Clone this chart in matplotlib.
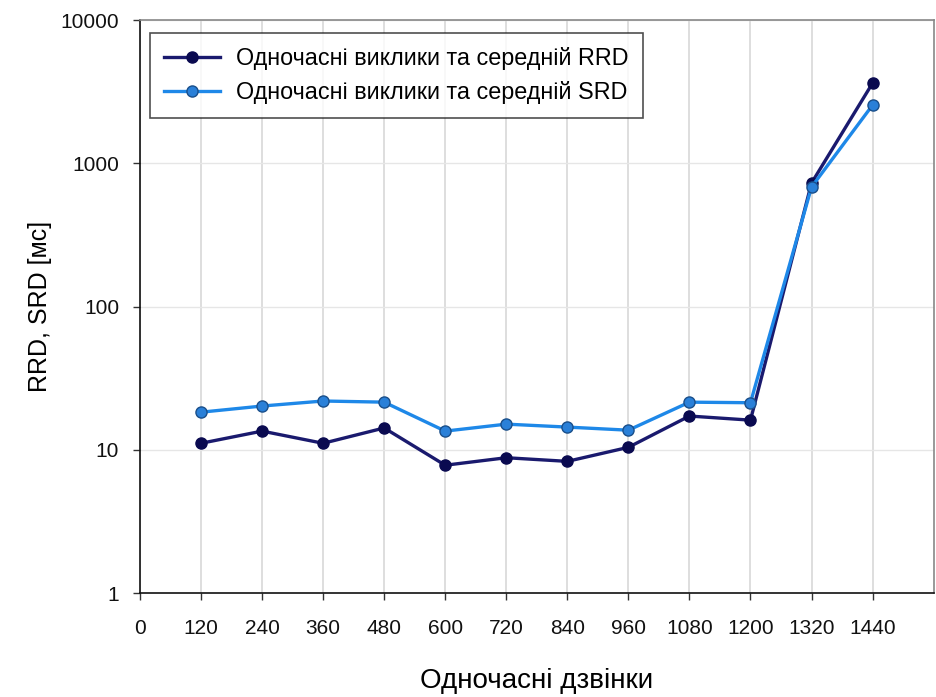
import matplotlib
matplotlib.use("Agg")
import matplotlib.pyplot as plt
from matplotlib.ticker import FixedLocator, NullLocator, FixedFormatter

plt.rcParams['font.family'] = ['Liberation Sans', 'DejaVu Sans']

calls = [120, 240, 360, 480, 600, 720, 840, 960, 1080, 1200, 1320, 1440]
rrd = [11.1, 13.5, 11.1, 14.2, 7.8, 8.8, 8.3, 10.4, 17.2, 16.1, 728, 3630]
srd = [18.3, 20.2, 21.9, 21.5, 13.5, 15.1, 14.4, 13.7, 21.5, 21.3, 683, 2550]
x_ticks = [0] + calls
y_ticks = [1, 10, 100, 1000, 10000]
y_labels = ['1', '10', '100', '1000', '10000']

fig = plt.figure(figsize=(9.37, 6.97), dpi=100)
ax = fig.add_axes([0.1494, 0.1492, 0.847, 0.822])

ax.set_yscale('log')
ax.set_xlim(0, 1560)
ax.set_ylim(1, 10000)

ax.plot(calls, rrd, color='#1a1a6e', lw=2.4, marker='o', ms=8,
        mfc='#0a0a50', mec='#0a0a50', label='Одночасні виклики та середній RRD', zorder=3)
ax.plot(calls, srd, color='#1e88e8', lw=2.4, marker='o', ms=8,
        mfc='#2a80d8', mec='#1a4f8a', label='Одночасні виклики та середній SRD', zorder=3)

ax.xaxis.set_major_locator(FixedLocator(x_ticks))
ax.yaxis.set_major_locator(FixedLocator(y_ticks))
ax.yaxis.set_major_formatter(FixedFormatter(y_labels))
ax.yaxis.set_minor_locator(NullLocator())

ax.grid(axis='x', color='#d8d8d8', lw=1.2)
ax.grid(axis='y', color='#e6e6e6', lw=1.0)
ax.set_axisbelow(True)

ax.tick_params(axis='both', direction='out', length=5, width=1, labelsize=15,
               color='#333333', labelcolor='#111111')
ax.tick_params(axis='x', pad=14)
ax.tick_params(axis='y', pad=10)

for side in ('left', 'bottom'):
    ax.spines[side].set_color('#111111')
    ax.spines[side].set_linewidth(1.2)
for side in ('top', 'right'):
    ax.spines[side].set_color('#888888')
    ax.spines[side].set_linewidth(1.2)

ax.set_xlabel('Одночасні дзвінки', fontsize=20, labelpad=21)
ax.set_ylabel('RRD, SRD [мс]', fontsize=18, labelpad=6)

leg = ax.legend(loc='upper left', bbox_to_anchor=(0.0126, 0.977), fontsize=16.8,
                frameon=True, fancybox=False, edgecolor='#222222',
                borderaxespad=0, borderpad=0.6, handlelength=2.4, labelspacing=0.45,
                handletextpad=0.7)
leg.get_frame().set_linewidth(1.2)

fig.savefig('out.png', dpi=100)
